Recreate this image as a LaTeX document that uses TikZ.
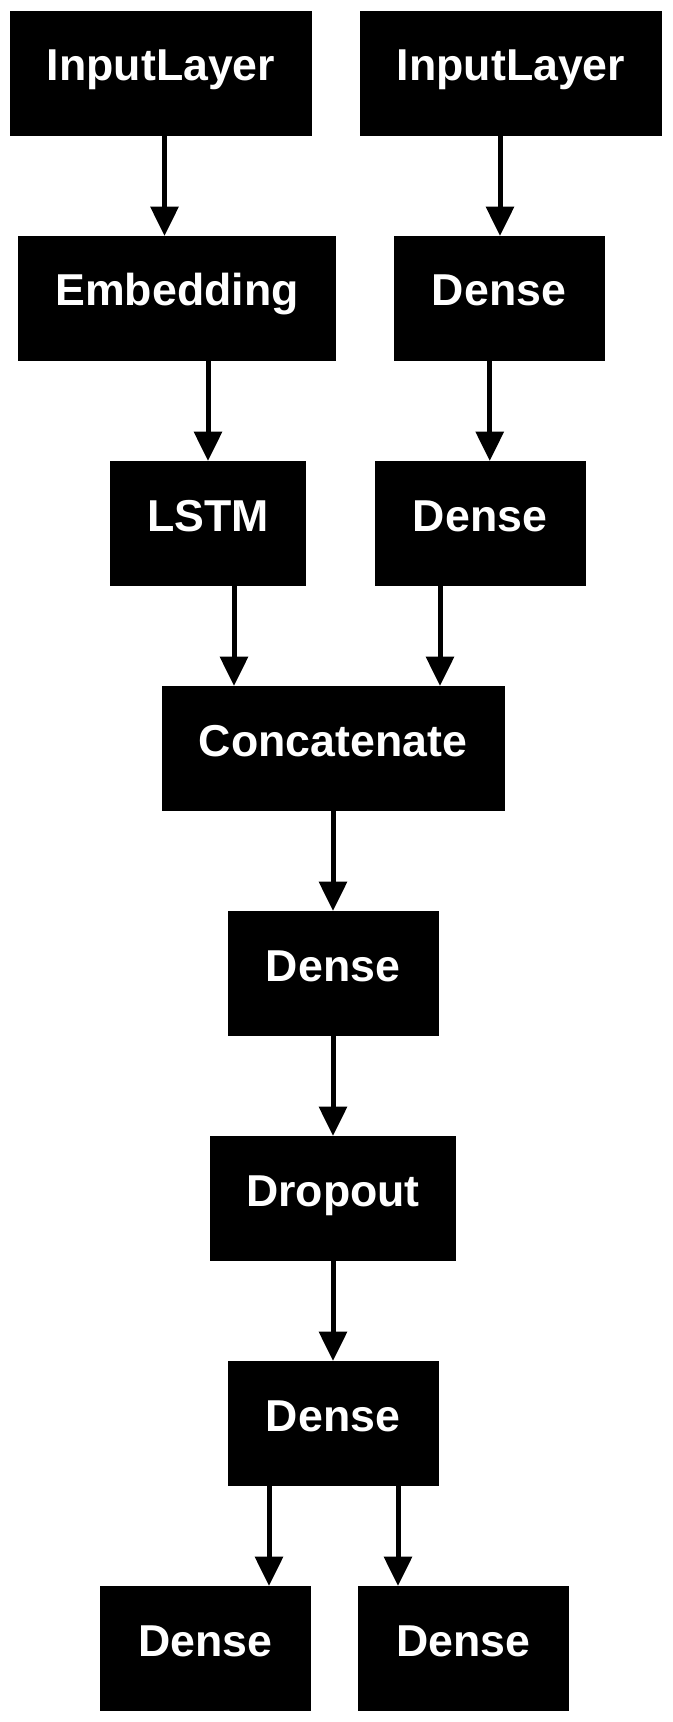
\documentclass[tikz,border=0pt]{standalone}
\usepackage{fontspec}
\setmainfont{Liberation Sans}
\usetikzlibrary{arrows.meta,positioning}
\tikzstyle{layer}=[fill=black, text=white, inner sep=0pt, outer sep=0pt, text height=52.5pt, text depth=41.25pt, font=\bfseries\fontsize{33.5}{40}\selectfont]

\begin{document}
\begin{tikzpicture}[node distance=168.75pt,>={Triangle[length=22pt,width=20.5pt]},line width=3.75pt]
        \useasboundingbox (0,0) rectangle (504pt,-1291.5pt);
        \node [layer,minimum width=226.5pt] (in1) at (120.75pt,-55.125pt) {InputLayer};
        \node [layer,minimum width=226.5pt] (in2) [right of=in1, node distance=262.5pt] {InputLayer};
        \node [layer,minimum width=238.5pt] (emb) [below of=in1, xshift=12pt] {Embedding};
        \node [layer,minimum width=158.25pt] (den1) [below of=in2, xshift=-9pt] {Dense};
        \node [layer,minimum width=147pt] (lstm) [below of=emb, xshift=23.25pt] {LSTM};
        \node [layer,minimum width=158.25pt] (den2) [below of=den1, xshift=-14.25pt] {Dense};
        \node [layer,minimum width=257.25pt] (cat) [below of=lstm, xshift=93.75pt] {Concatenate};
        \node [layer,minimum width=158.25pt] (den3) [below of=cat] {Dense};
        \node [layer,minimum width=184.5pt] (drop) [below of=den3] {Dropout};
        \node [layer,minimum width=158.25pt] (den4) [below of=drop] {Dense};
        \node [layer,minimum width=158.25pt] (out1) [below of=den4, xshift=-95.625pt] {Dense};
        \node [layer,minimum width=158.25pt] (out2) [right of=out1, node distance=193.5pt] {Dense};
        % columns of the edges
        \coordinate (c1) at (123.375pt,0);
        \coordinate (c2) at (375pt,0);
        \coordinate (c3) at (156pt,0);
        \coordinate (c4) at (367.3pt,0);
        \coordinate (c5) at (175.5pt,0);
        \coordinate (c6) at (330pt,0);
        \coordinate (c7) at (249.75pt,0);
        \coordinate (c8) at (201.75pt,0);
        \coordinate (c9) at (298.5pt,0);
        \path[->]
        (in1.south -| c1) edge (emb.north -| c1)
        (in2.south -| c2) edge (den1.north -| c2)
        (emb.south -| c3) edge (lstm.north -| c3)
        (den1.south -| c4) edge (den2.north -| c4)
        (lstm.south -| c5) edge (cat.north -| c5)
        (den2.south -| c6) edge (cat.north -| c6)
        (cat.south -| c7) edge (den3.north -| c7)
        (den3.south -| c7) edge (drop.north -| c7)
        (drop.south -| c7) edge (den4.north -| c7)
        (den4.south -| c8) edge (out1.north -| c8)
        (den4.south -| c9) edge (out2.north -| c9);
\end{tikzpicture}
\end{document}
